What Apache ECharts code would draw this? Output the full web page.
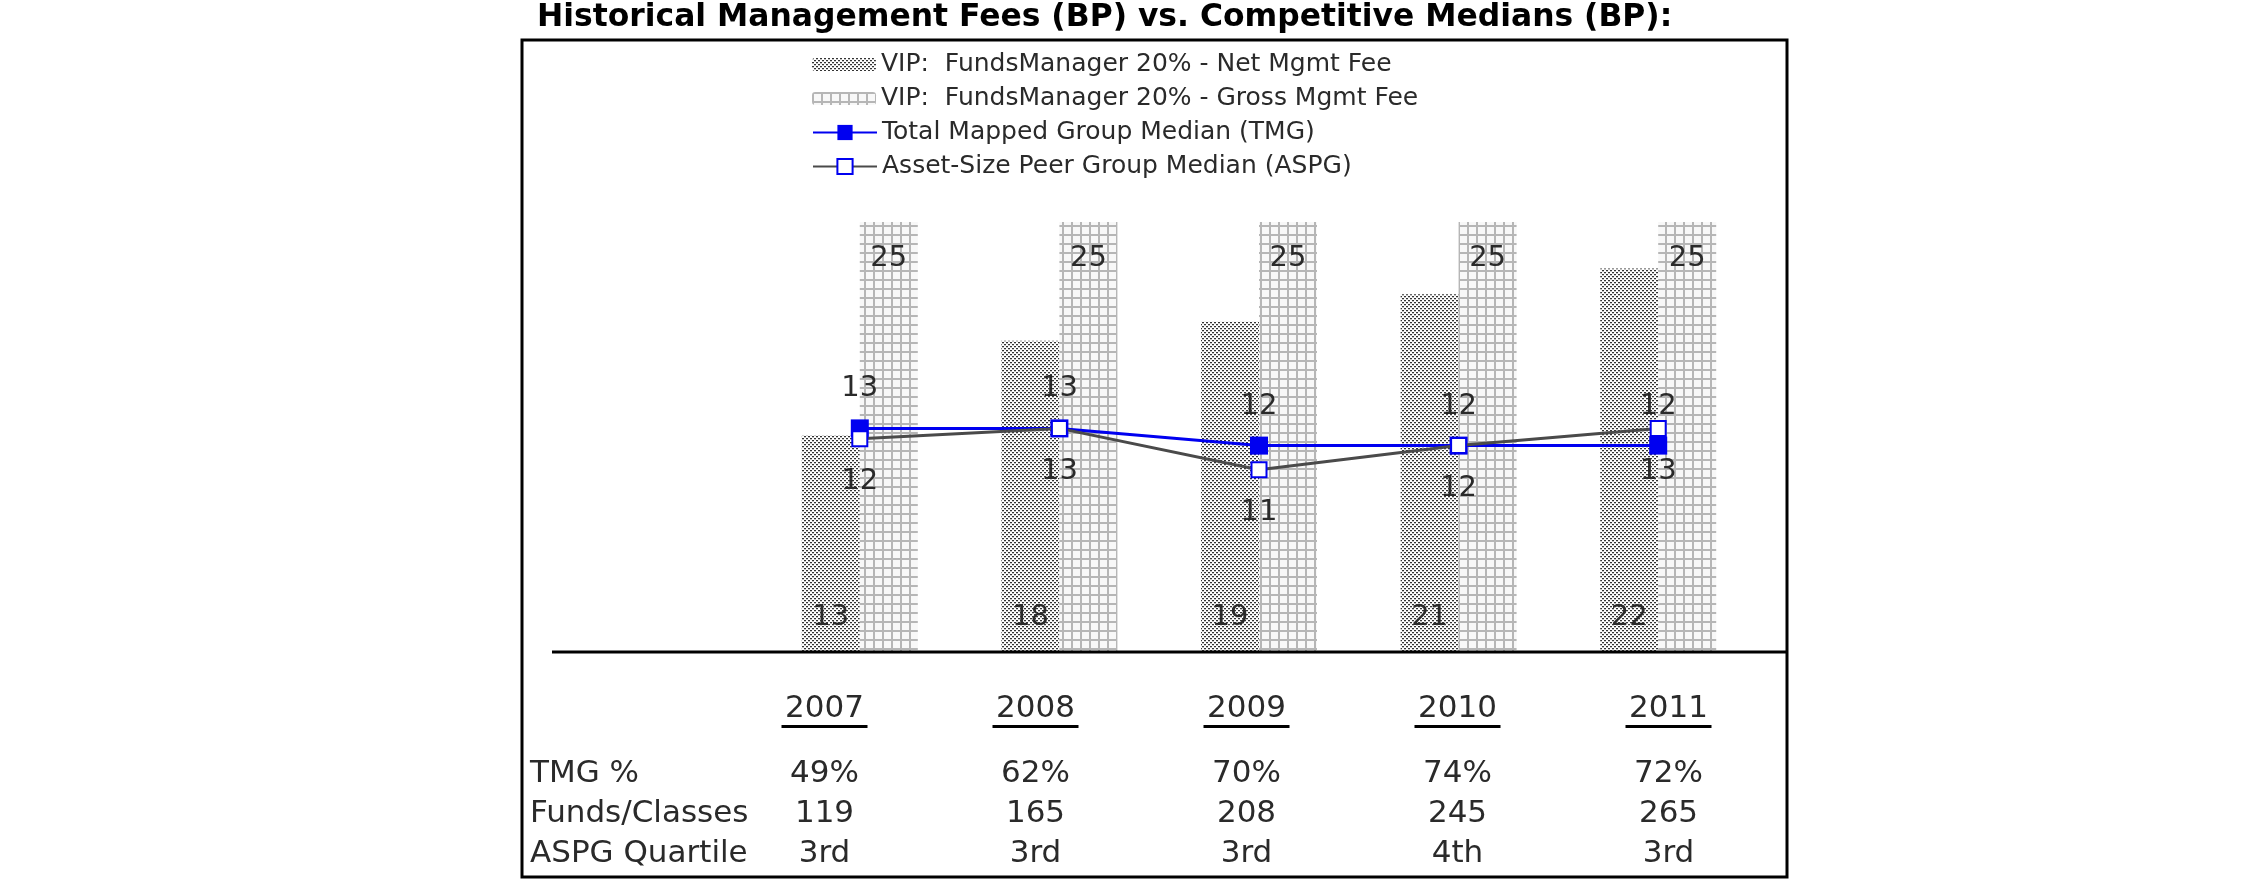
<!DOCTYPE html>
<html><head><meta charset="utf-8">
<script src="https://cdn.jsdelivr.net/npm/echarts@6/dist/echarts.min.js"></script>
<style>html,body{margin:0;padding:0;background:#fff;} #c{width:2250px;height:895px;}</style>
</head><body><div id="c"></div>
<script>
const chartTitle = 'Historical Management Fees (BP) vs. Competitive Medians (BP):';
const years = ['2007', '2008', '2009', '2010', '2011'];
const netFee = [12.6, 18.1, 19.2, 20.8, 22.3];
const grossFee = [25, 25, 25, 25, 25];
const tmgMedian = [13.0, 13.0, 12.0, 12.0, 12.0];
const aspgMedian = [12.4, 13.0, 10.6, 12.0, 13.0];
const seriesNames = [
  'VIP:  FundsManager 20% - Net Mgmt Fee',
  'VIP:  FundsManager 20% - Gross Mgmt Fee',
  'Total Mapped Group Median (TMG)',
  'Asset-Size Peer Group Median (ASPG)'
];
const tableRowLabels = ['TMG %', 'Funds/Classes', 'ASPG Quartile'];
const tmgPct = ['49%', '62%', '70%', '74%', '72%'];
const fundsClasses = ['119', '165', '208', '245', '265'];
const aspgQuartile = ['3rd', '3rd', '3rd', '4th', '3rd'];

const FONT = 'DejaVu Sans';

function makeDotPattern() {
  const c = document.createElement('canvas');
  c.width = 4; c.height = 4;
  const g = c.getContext('2d');
  g.fillStyle = '#ffffff'; g.fillRect(0, 0, 4, 4);
  g.fillStyle = '#333333';
  g.fillRect(0, 0, 2, 1); g.fillRect(2, 2, 2, 1);
  g.fillStyle = '#c4c4c4';
  g.fillRect(0, 1, 2, 1); g.fillRect(2, 3, 2, 1);
  return c;
}
function makeGridPattern() {
  const c = document.createElement('canvas');
  c.width = 9; c.height = 9;
  const g = c.getContext('2d');
  g.fillStyle = '#f8f8f8'; g.fillRect(0, 0, 9, 9);
  g.fillStyle = '#b6b6b6';
  g.fillRect(0, 0, 2, 9);
  g.fillRect(0, 0, 9, 2);
  return c;
}
const dotPat = { image: makeDotPattern(), repeat: 'repeat' };
const gridPat = { image: makeGridPattern(), repeat: 'repeat' };

const chart = echarts.init(document.getElementById('c'), null, { renderer: 'canvas' });
const labelStyle = { fontFamily: FONT, fontSize: 29, color: '#2a2a2a' };

const option = {
  animation: false,
  backgroundColor: '#fff',
  title: {
    text: chartTitle, left: 537, top: 2, padding: 0,
    textStyle: { fontFamily: FONT, fontWeight: 'bold', fontSize: 31.4, color: '#000' }
  },
  legend: [
    {
      data: [seriesNames[0], seriesNames[1]], orient: 'vertical', left: 812, top: 52, padding: 0,
      itemWidth: 64, itemHeight: 13, itemGap: 9,
      textStyle: { fontFamily: FONT, fontSize: 25, color: '#2a2a2a' }
    },
    {
      data: [seriesNames[2], seriesNames[3]], orient: 'vertical', left: 812, top: 120, padding: 0,
      itemWidth: 64, itemHeight: 19, itemGap: 9,
      textStyle: { fontFamily: FONT, fontSize: 25, color: '#2a2a2a' }
    }
  ],
  grid: [
    { left: 760, right: 492, top: 222, bottom: 243 },
    { left: 719, right: 476, top: 682, height: 1 }
  ],
  xAxis: [
    { type: 'category', data: years, gridIndex: 0, show: false },
    {
      type: 'category', data: years, gridIndex: 1, position: 'bottom',
      axisLine: { show: false }, axisTick: { show: false },
      axisLabel: {
        margin: 10, interval: 0,
        formatter: function (v, i) {
          return '{y|' + v + '}\n{u| }\n{s| }\n{v|' + tmgPct[i] + '}\n{v|' + fundsClasses[i] + '}\n{v|' + aspgQuartile[i] + '}';
        },
        rich: {
          y: { fontFamily: FONT, fontSize: 31, color: '#2a2a2a', lineHeight: 32 },
          u: { width: 86, height: 3, lineHeight: 3, fontSize: 1, backgroundColor: '#000' },
          s: { height: 26, lineHeight: 26, fontSize: 1 },
          v: { fontFamily: FONT, fontSize: 31, color: '#2a2a2a', lineHeight: 40 }
        }
      }
    }
  ],
  yAxis: [
    { type: 'value', min: 0, max: 25, gridIndex: 0, show: false },
    { type: 'value', gridIndex: 1, show: false }
  ],
  series: [
    {
      name: seriesNames[0], type: 'bar', data: netFee, barWidth: 58, barGap: '0%',
      itemStyle: { color: dotPat },
      label: Object.assign({ show: true, position: 'insideBottom', distance: 20,
        formatter: p => Math.round(p.value) }, labelStyle)
    },
    {
      name: seriesNames[1], type: 'bar', data: grossFee, barWidth: 58, barGap: '0%',
      itemStyle: { color: gridPat },
      label: Object.assign({ show: true, position: 'insideTop', distance: 22,
        formatter: p => Math.round(p.value) }, labelStyle)
    },
    {
      name: seriesNames[2], type: 'line', data: tmgMedian, symbol: 'rect', symbolSize: 18,
      lineStyle: { color: '#0000f0', width: 3 },
      itemStyle: { color: '#0000f0' },
      label: Object.assign({ show: true, position: 'top', distance: 16,
        formatter: p => Math.round(p.value) }, labelStyle),
      z: 3
    },
    {
      name: seriesNames[3], type: 'line', data: aspgMedian, symbol: 'rect', symbolSize: 15,
      lineStyle: { color: '#4a4a4a', width: 3 },
      itemStyle: { color: '#fff', borderColor: '#0000f0', borderWidth: 2 },
      label: Object.assign({ show: true, position: 'bottom', distance: 20,
        formatter: p => Math.round(p.value) }, labelStyle),
      z: 4
    }
  ],
  graphic: [
    { type: 'rect', shape: { x: 522, y: 40, width: 1265, height: 837 },
      style: { fill: 'none', stroke: '#000', lineWidth: 3 }, z: 10 },
    { type: 'line', shape: { x1: 552, y1: 652, x2: 1787, y2: 652 },
      style: { stroke: '#000', lineWidth: 3 }, z: 10 },
    { type: 'text', x: 530, y: 754,
      style: { text: tableRowLabels.join('\n'), fontFamily: FONT, fontSize: 31, lineHeight: 40,
        fill: '#2a2a2a', verticalAlign: 'top', align: 'left' } }
  ]
};
chart.setOption(option);
</script>
</body></html>
